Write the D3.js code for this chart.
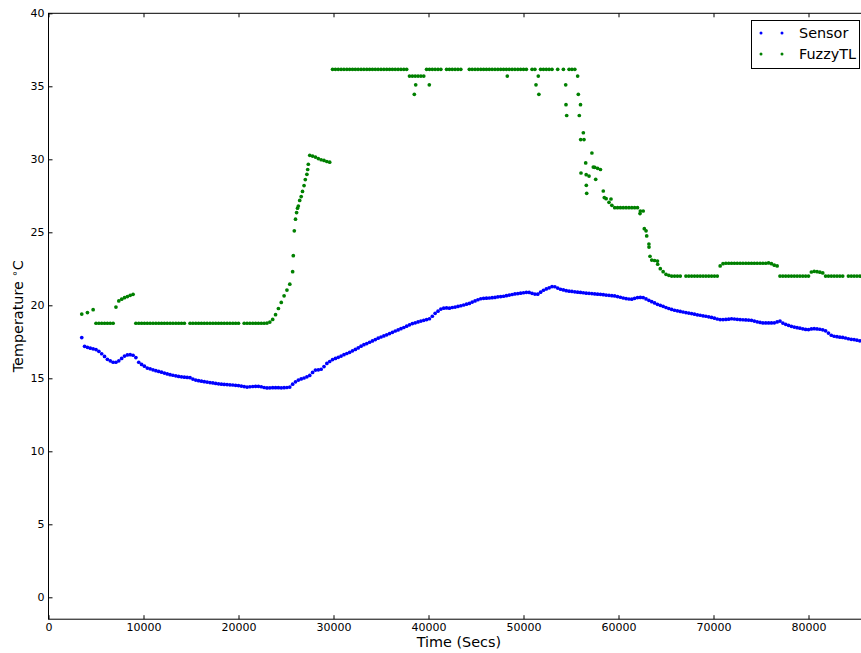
<!DOCTYPE html>
<html>
<head>
<meta charset="utf-8">
<script src="https://cdn.jsdelivr.net/npm/d3@7"></script>
<style>
  html, body { margin: 0; padding: 0; background: #fff; }
  svg { display: block; }
  text { font-family: "DejaVu Sans", sans-serif; }
</style>
</head>
<body>
<svg id="chart" width="861" height="653"></svg>
<script>
// ---------------- DATA ----------------
const seriesNames = ["Sensor", "FuzzyTL"];
const xTicks = [0, 10000, 20000, 30000, 40000, 50000, 60000, 70000, 80000];
const yTicks = [0, 5, 10, 15, 20, 25, 30, 35, 40];
const xLabel = "Time (Secs)";
const yLabel = "Temperature";

// regular sampling: first reading at 3500 s, one reading every 300 s
const sampleStart = 3500;
const sampleStep = 300;

const sensorTemps = [
  17.79, 17.19, 17.12, 17.06, 17.02, 16.97, 16.85, 16.68, 16.5, 16.3,
  16.2, 16.1, 16.1, 16.2, 16.36, 16.52, 16.6, 16.62, 16.58, 16.42,
  16.1, 15.95, 15.83, 15.7, 15.65, 15.58, 15.52, 15.47, 15.42, 15.36,
  15.3, 15.25, 15.21, 15.17, 15.13, 15.1, 15.08, 15.06, 15.04, 14.95,
  14.88, 14.84, 14.8, 14.77, 14.74, 14.71, 14.68, 14.65, 14.62, 14.6,
  14.58, 14.57, 14.55, 14.54, 14.52, 14.5, 14.47, 14.43, 14.4, 14.42,
  14.44, 14.45, 14.45, 14.42, 14.37, 14.34, 14.35, 14.36, 14.36, 14.36,
  14.35, 14.36, 14.37, 14.4, 14.6, 14.76, 14.88, 14.96, 15.02, 15.1,
  15.2, 15.4, 15.56, 15.58, 15.62, 15.8, 16.02, 16.15, 16.28, 16.36,
  16.44, 16.52, 16.62, 16.7, 16.78, 16.88, 16.98, 17.08, 17.2, 17.3,
  17.38, 17.47, 17.56, 17.65, 17.75, 17.83, 17.9, 17.98, 18.06, 18.15,
  18.24, 18.31, 18.4, 18.48, 18.57, 18.66, 18.75, 18.8, 18.86, 18.92,
  18.97, 19.02, 19.08, 19.25, 19.45, 19.6, 19.74, 19.8, 19.82, 19.8,
  19.85, 19.88, 19.92, 19.97, 20.02, 20.08, 20.13, 20.22, 20.3, 20.38,
  20.45, 20.48, 20.49, 20.5, 20.52, 20.54, 20.58, 20.6, 20.62, 20.66,
  20.7, 20.74, 20.78, 20.8, 20.83, 20.86, 20.89, 20.88, 20.82, 20.77,
  20.76, 20.9, 21.03, 21.12, 21.2, 21.28, 21.27, 21.18, 21.1, 21.05,
  21.0, 20.97, 20.95, 20.92, 20.9, 20.88, 20.86, 20.83, 20.82, 20.8,
  20.78, 20.76, 20.75, 20.73, 20.7, 20.68, 20.66, 20.64, 20.6, 20.55,
  20.5, 20.46, 20.43, 20.42, 20.48, 20.53, 20.54, 20.53, 20.44, 20.34,
  20.25, 20.16, 20.07, 20.0, 19.93, 19.85, 19.78, 19.72, 19.66, 19.62,
  19.58, 19.54, 19.5, 19.47, 19.43, 19.39, 19.35, 19.32, 19.28, 19.25,
  19.21, 19.17, 19.12, 19.06, 19.02, 19.02, 19.03, 19.05, 19.08, 19.06,
  19.04, 19.02, 19.01, 19.0, 18.99, 18.97, 18.92, 18.87, 18.83, 18.79,
  18.79, 18.79, 18.79, 18.8, 18.86, 18.92, 18.78, 18.7, 18.63, 18.56,
  18.51, 18.47, 18.43, 18.39, 18.35, 18.34, 18.38, 18.4, 18.38, 18.36,
  18.32, 18.25, 18.1, 17.95, 17.88, 17.85, 17.82, 17.8, 17.76, 17.71,
  17.67, 17.65, 17.61, 17.57, 17.53, 17.5, 17.48
];

const fuzzyTemps = [
  19.4, null, 19.5, null, 19.7,
  18.77, 18.77, 18.77, 18.77, 18.77, 18.77, 18.77,
  19.88, 20.3, 20.42, 20.52, 20.6, 20.68, 20.75,
  18.77, 18.77, 18.77, 18.77, 18.77, 18.77, 18.77, 18.77, 18.77, 18.77, 18.77, 18.77, 18.77, 18.77, 18.77, 18.77, 18.77, 18.77,
  null,
  18.77, 18.77, 18.77, 18.77, 18.77, 18.77, 18.77, 18.77, 18.77, 18.77, 18.77, 18.77, 18.77, 18.77, 18.77, 18.77, 18.77, 18.77,
  null,
  18.77, 18.77, 18.77, 18.77, 18.77, 18.77, 18.77, 18.77,
  18.78, 18.85, 19.03, 19.36, 19.78, 20.2, 20.65, 21.04, 21.45, 22.3,
  25.9, 26.8, 27.45, 28.2, 28.97, 30.27, 30.22, 30.15, 30.05, 29.97, 29.92, 29.85, 29.8,
  36.16, 36.16, 36.16, 36.16, 36.16, 36.16, 36.16, 36.16, 36.16, 36.16,
  36.16, 36.16, 36.16, 36.16, 36.16, 36.16, 36.16, 36.16, 36.16, 36.16,
  36.16, 36.16, 36.16, 36.16, 36.16, 36.16, 36.16,
  35.7, 35.7, 35.7, 35.7, 35.7, 35.7,
  36.16, 36.16, 36.16, 36.16, 36.16, 36.16,
  null,
  36.16, 36.16, 36.16, 36.16, 36.16, 36.16,
  null, null,
  36.16, 36.16, 36.16, 36.16, 36.16, 36.16, 36.16, 36.16, 36.16, 36.16,
  36.16, 36.16, 36.16, 36.16, 36.16, 36.16, 36.16, 36.16, 36.16, 36.16, 36.16,
  null,
  36.16, 36.16,
  null,
  36.16, 36.16, 36.16, 36.16, 36.16,
  null, 36.16, null, 36.16, null,
  36.16, 36.16, 36.16,
  35.7, 33.74, 31.82, 28.95, 28.85, 30.43, 29.45, 29.38, 29.3, 27.83, 27.3, 27.05, 26.85,
  26.69, 26.69, 26.69, 26.69, 26.69, 26.69, 26.69, 26.69, 26.69,
  26.46, 26.46, 25.1, 24.2, 23.1, 23.07, 23.03, 22.51, 22.3, 22.12, 22.05,
  22.0, 22.0, 22.0, 22.0,
  null,
  22.0, 22.0, 22.0, 22.0, 22.0, 22.0, 22.0, 22.0, 22.0, 22.0, 22.0, 22.0,
  22.7, 22.85,
  22.88, 22.88, 22.88, 22.88, 22.88, 22.88, 22.88, 22.88, 22.88, 22.88, 22.88, 22.88, 22.88, 22.88, 22.88,
  22.9, 22.85, 22.75, 22.7,
  22.0, 22.0, 22.0, 22.0, 22.0, 22.0, 22.0, 22.0, 22.0, 22.0, 22.0,
  22.28, 22.33, 22.3, 22.27, 22.22,
  22.0, 22.0, 22.0, 22.0, 22.0, 22.0, 22.0,
  null,
  22.0, 22.0, 22.0, 22.0, 22.0, 22.0, 22.0, 22.0
];

// additional FuzzyTL readings off the regular grid (ramp and scattered outputs)
const fuzzyExtraTimes = [
  25768, 25874, 26116, 26211, 26442, 26737, 27032, 27284, 27347,
  38505, 38653, 40084, 48295, 51316, 51558, 51620, 54442, 54474, 54547,
  55768, 55874, 56021, 56368, 56053, 56547, 56611, 56650, 57347, 57600,
  58505, 59211, 62263, 62716, 62968, 63211, 63316, 64126
];
const fuzzyExtraTemps = [
  23.4, 25.1, 26.35, 26.65, 27.18, 27.8, 28.61, 29.3, 29.66,
  34.45, 35.1, 35.1, 35.7, 35.1, 35.7, 34.45, 35.1, 33.74, 33.0,
  34.45, 33.0, 31.35, 31.35, 29.06, 29.75, 28.22, 27.67, 29.47, 28.63,
  27.38, 27.28, 26.28, 25.25, 24.75, 23.99, 23.36, 22.81
];

const colors = { Sensor: "#0000ff", FuzzyTL: "#008000" };

// ---------------- CHART ----------------
const svg = d3.select("#chart");
const M = { left: 48.5, right: 869.3, top: 13.3, bottom: 619.2 };

const x = d3.scaleLinear().domain([0, 86400]).range([M.left, M.right]);
const y = d3.scaleLinear().domain([-1.5, 40]).range([M.bottom, M.top]);

const sensorPts = [];
sensorTemps.forEach((v, i) => { if (v != null) sensorPts.push([sampleStart + i * sampleStep, v]); });
const fuzzyPts = [];
fuzzyTemps.forEach((v, i) => { if (v != null) fuzzyPts.push([sampleStart + i * sampleStep, v]); });
fuzzyExtraTimes.forEach((t, i) => fuzzyPts.push([t, fuzzyExtraTemps[i]]));

svg.append("defs").append("clipPath").attr("id", "clip")
  .append("rect").attr("x", M.left).attr("y", M.top).attr("width", M.right - M.left).attr("height", M.bottom - M.top);

const plot = svg.append("g").attr("clip-path", "url(#clip)");
const r = 1.85;
plot.append("g").selectAll("circle").data(sensorPts).join("circle")
  .attr("cx", d => x(d[0])).attr("cy", d => y(d[1])).attr("r", r).attr("fill", colors.Sensor);
plot.append("g").selectAll("circle").data(fuzzyPts).join("circle")
  .attr("cx", d => x(d[0])).attr("cy", d => y(d[1])).attr("r", r).attr("fill", colors.FuzzyTL);

// axes (matplotlib-like, ticks inside on all sides)
const tickLen = 4;
const fmt = d3.format("d");
const xAxisB = d3.axisBottom(x).tickValues(xTicks).tickSizeInner(-tickLen).tickSizeOuter(0).tickPadding(4).tickFormat(fmt);
const xAxisT = d3.axisTop(x).tickValues(xTicks).tickSizeInner(-tickLen).tickSizeOuter(0).tickFormat("");
const yAxisL = d3.axisLeft(y).tickValues(yTicks).tickSizeInner(-tickLen).tickSizeOuter(0).tickPadding(4).tickFormat(fmt);
const yAxisR = d3.axisRight(y).tickValues(yTicks).tickSizeInner(-tickLen).tickSizeOuter(0).tickFormat("");

function style(g) {
  g.select(".domain").remove();
  g.selectAll(".tick line").attr("stroke", "#000").attr("stroke-width", 1);
  g.selectAll(".tick text").attr("fill", "#000").attr("font-size", "11px").attr("font-family", "DejaVu Sans, sans-serif");
}
svg.append("g").attr("transform", `translate(0,${M.bottom})`).call(xAxisB).call(style);
svg.append("g").attr("transform", `translate(0,${M.top})`).call(xAxisT).call(style);
svg.append("g").attr("transform", `translate(${M.left},0)`).call(yAxisL).call(style);
svg.append("g").attr("transform", `translate(${M.right},0)`).call(yAxisR).call(style);

// frame
svg.append("rect").attr("x", M.left).attr("y", M.top).attr("width", M.right - M.left).attr("height", M.bottom - M.top)
  .attr("fill", "none").attr("stroke", "#000").attr("stroke-width", 1);

// axis labels
svg.append("text").attr("x", (M.left + M.right) / 2).attr("y", 647).attr("text-anchor", "middle")
  .attr("font-size", "14.4px").text(xLabel);
const yl = svg.append("text").attr("transform", `translate(23,${(M.top + M.bottom) / 2}) rotate(-90)`)
  .attr("text-anchor", "middle").attr("font-size", "14.4px");
yl.append("tspan").text(yLabel + " ");
yl.append("tspan").attr("font-size", "10px").attr("dy", "-5").text("\u2218");
yl.append("tspan").attr("dy", "5").text("C");

// legend
const lg = svg.append("g");
lg.append("rect").attr("x", 751.5).attr("y", 20.5).attr("width", 108).attr("height", 48)
  .attr("fill", "#fff").attr("stroke", "#000").attr("stroke-width", 1);
seriesNames.forEach((name, i) => {
  const cy = 33 + i * 21;
  [761, 782].forEach(cx => lg.append("circle").attr("cx", cx).attr("cy", cy).attr("r", 1.5).attr("fill", colors[name]));
  lg.append("text").attr("x", 799).attr("y", cy + 5).attr("font-size", "14.4px").text(name);
});
</script>
</body>
</html>
